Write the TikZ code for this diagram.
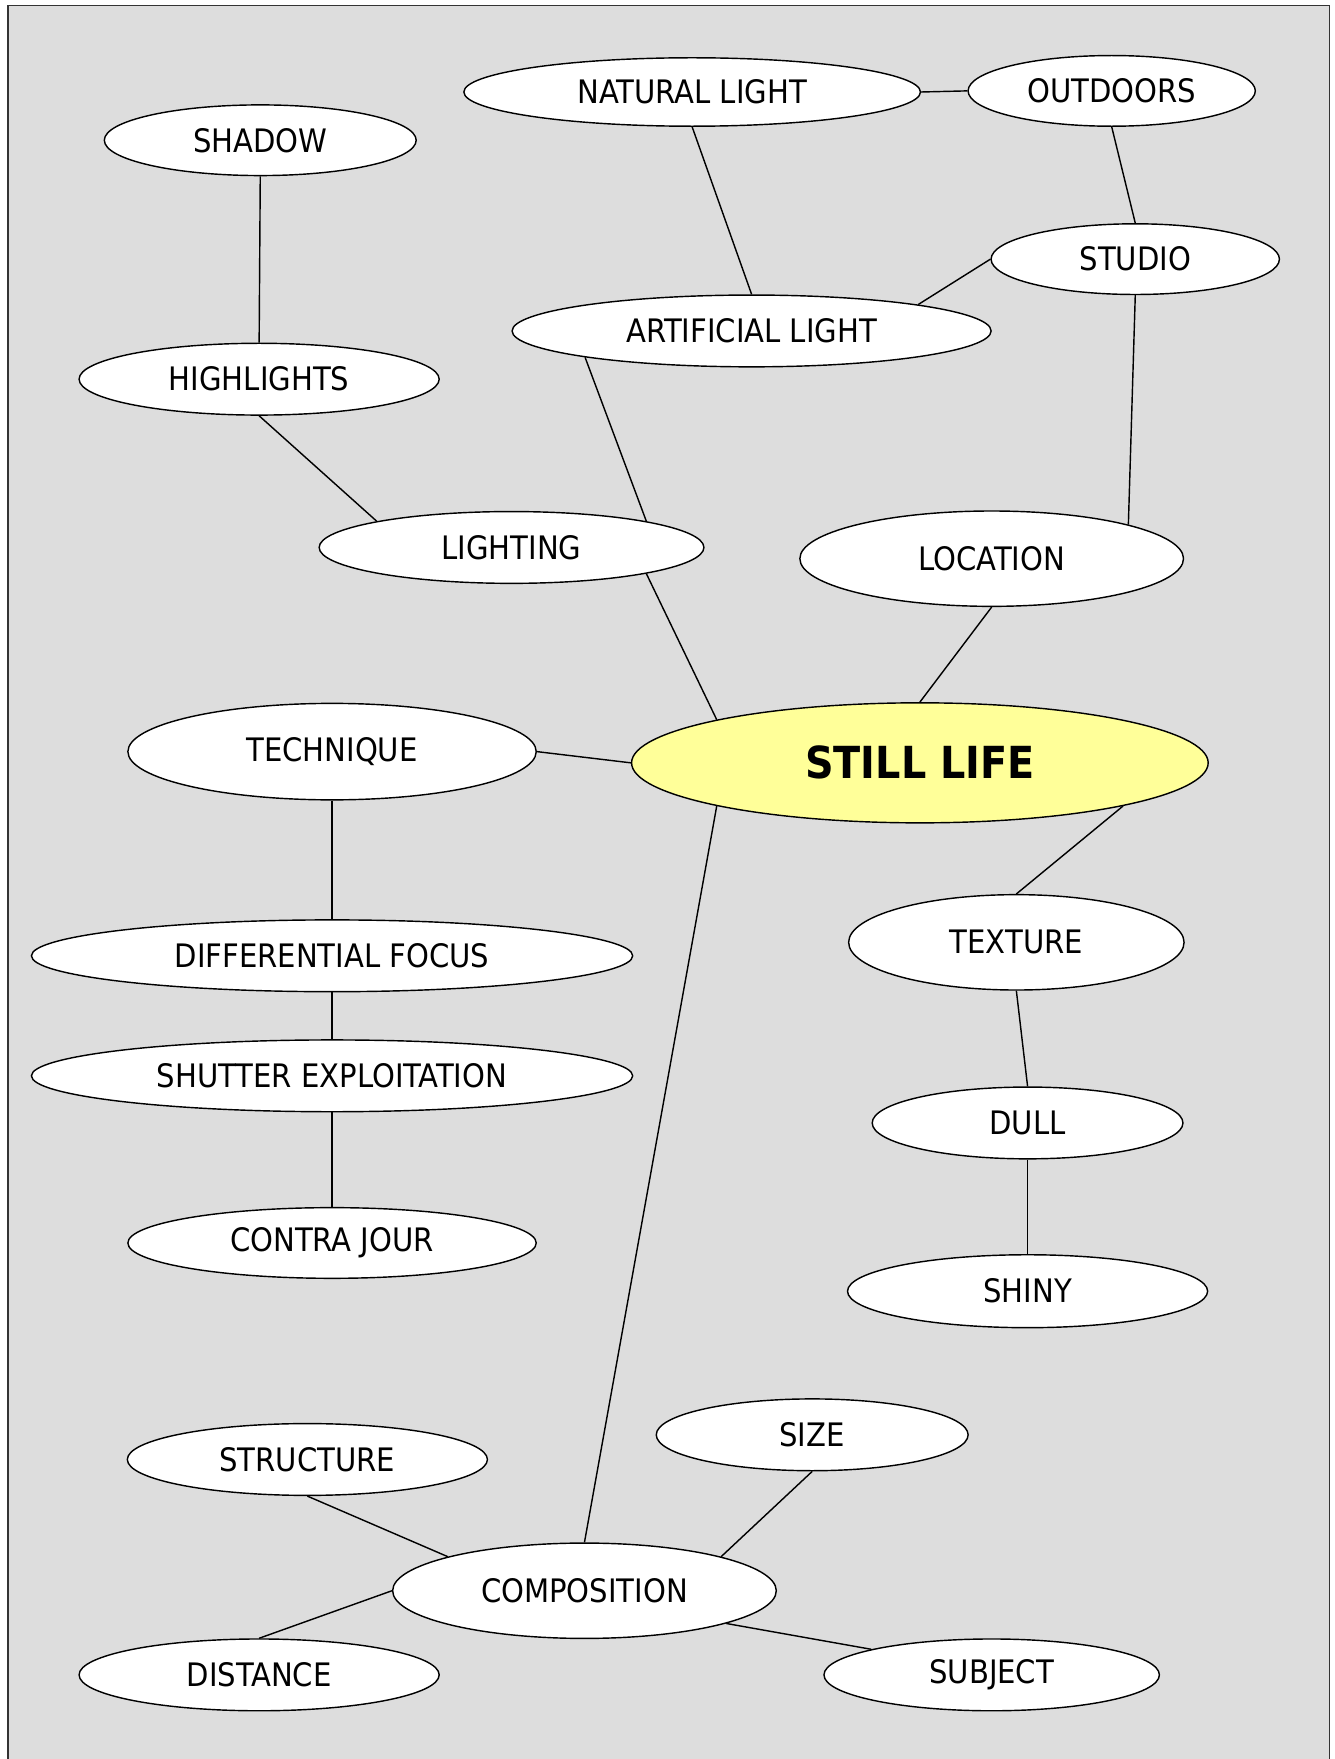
\documentclass[tikz,border=0pt]{standalone}
\usepackage{fontspec}
\setmainfont{DejaVu Sans Condensed}
\usetikzlibrary{shapes.geometric}
\definecolor{bggray}{HTML}{DDDDDD}
\definecolor{hiyellow}{HTML}{FFFF99}

\begin{document}
\begin{tikzpicture}[x=0.025cm,y=-0.025cm]
                        \tikzstyle{topic}=[ellipse,draw,fill=white,line width=0.9pt,inner sep=0pt,font=\fontsize{20.5}{24}\selectfont]
                        \tikzstyle{link}=[line width=0.9pt]
                        \useasboundingbox (0,0) rectangle (1190,1568);
                        \fill[bggray] (7,5) rectangle (1185,1572);
                        \draw[line width=1pt,black!80] (7,1572) -- (7,5) -- (1185,5) -- (1185,1572);
                        \node[topic,minimum width=407*0.025cm,minimum height=61*0.025cm] (natural) at (617,82) {NATURAL LIGHT};
                        \node[topic,minimum width=256*0.025cm,minimum height=63*0.025cm] (outdoors) at (991,81) {OUTDOORS};
                        \node[topic,minimum width=278*0.025cm,minimum height=63*0.025cm] (shadow) at (232,125) {SHADOW};
                        \node[topic,minimum width=257*0.025cm,minimum height=63*0.025cm] (studio) at (1012,231) {STUDIO};
                        \node[topic,minimum width=427*0.025cm,minimum height=64*0.025cm] (artificial) at (670,295) {ARTIFICIAL LIGHT};
                        \node[topic,minimum width=321*0.025cm,minimum height=64*0.025cm] (highlights) at (231,338) {HIGHLIGHTS};
                        \node[topic,minimum width=343*0.025cm,minimum height=64*0.025cm] (lighting) at (456,488) {LIGHTING};
                        \node[topic,minimum width=342*0.025cm,minimum height=85*0.025cm] (location) at (884,498) {LOCATION};
                        \node[topic,fill=hiyellow,minimum width=514*0.025cm,minimum height=107*0.025cm,font=\fontsize{28}{32}\selectfont\bfseries] (still) at (820,680) {STILL LIFE};
                        \node[topic,minimum width=364*0.025cm,minimum height=86*0.025cm] (technique) at (296,670) {TECHNIQUE};
                        \node[topic,minimum width=536*0.025cm,minimum height=64*0.025cm] (focus) at (296,852) {DIFFERENTIAL FOCUS};
                        \node[topic,minimum width=299*0.025cm,minimum height=85*0.025cm] (texture) at (906,840) {TEXTURE};
                        \node[topic,minimum width=536*0.025cm,minimum height=64*0.025cm] (shutter) at (296,959) {SHUTTER EXPLOITATION};
                        \node[topic,minimum width=277*0.025cm,minimum height=64*0.025cm] (dull) at (916,1001) {DULL};
                        \node[topic,minimum width=364*0.025cm,minimum height=63*0.025cm] (contra) at (296,1108) {CONTRA JOUR};
                        \node[topic,minimum width=321*0.025cm,minimum height=65*0.025cm] (shiny) at (916,1151) {SHINY};
                        \node[topic,minimum width=278*0.025cm,minimum height=64*0.025cm] (sizenode) at (724,1279) {SIZE};
                        \node[topic,minimum width=321*0.025cm,minimum height=64*0.025cm] (structure) at (274,1301) {STRUCTURE};
                        \node[topic,minimum width=342*0.025cm,minimum height=85*0.025cm] (composition) at (521,1418) {COMPOSITION};
                        \node[topic,minimum width=321*0.025cm,minimum height=64*0.025cm] (distance) at (231,1493) {DISTANCE};
                        \node[topic,minimum width=299*0.025cm,minimum height=64*0.025cm] (subject) at (884,1493) {SUBJECT};
                        \draw[link] (natural.east) -- (outdoors.west);
                        \draw[link] (natural.south) -- (artificial.north);
                        \draw[link] (outdoors.south) -- (studio.north);
                        \draw[link] (studio.west) -- (artificial.9);
                        \draw[link] (studio.south) -- (location.14);
                        \draw[link] (shadow.south) -- (highlights.north);
                        \draw[link] (highlights.south) -- (lighting.169);
                        \draw[link] (artificial.-171) -- (lighting.11);
                        \draw[link] (lighting.-11) -- (still.168);
                        \draw[link] (location.south) -- (still.north);
                        \draw[link] (technique.east) -- (still.west);
                        \draw[link] (still.-12) -- (texture.north);
                        \draw[link] (still.192) -- (composition.north);
                        \draw[link] (technique.south) -- (focus.north);
                        \draw[link] (focus.south) -- (shutter.north);
                        \draw[link] (shutter.south) -- (contra.north);
                        \draw[link] (texture.south) -- (dull.north);
                        \draw[link] (dull.south) -- (shiny.north);
                        \draw[link] (sizenode.south) -- (composition.14);
                        \draw[link] (structure.south) -- (composition.166);
                        \draw[link] (composition.west) -- (distance.north);
                        \draw[link] (composition.-13) -- (subject.168);
                    \end{tikzpicture}
\end{document}
